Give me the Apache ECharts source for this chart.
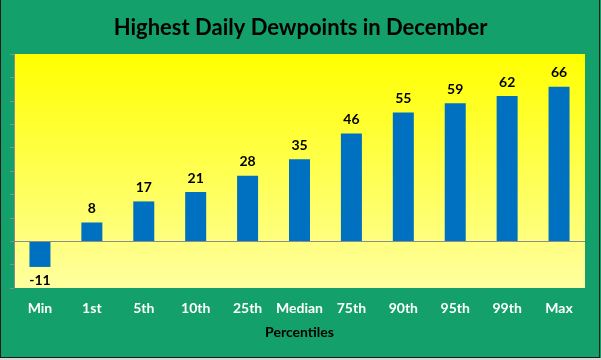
<!DOCTYPE html>
<html>
<head>
<meta charset="utf-8">
<script src="https://cdn.jsdelivr.net/npm/echarts@6/dist/echarts.min.js"></script>
<style>
html,body{margin:0;padding:0;background:#fff;}
#c{width:601px;height:360px;}
</style>
</head>
<body>
<div id="c"></div>
<script>
const categories = ["Min","1st","5th","10th","25th","Median","75th","90th","95th","99th","Max"];
const values = [-11, 8, 17, 21, 28, 35, 46, 55, 59, 62, 66];
const titleText = "Highest Daily Dewpoints in December";
const xAxisName = "Percentiles";
const yMin = -20, yMax = 80, yInterval = 10;

const FONT = "Lato";
const chart = echarts.init(document.getElementById('c'), null, {renderer:'canvas'});
chart.setOption({
  animation:false,
  backgroundColor:'#13A06A',
  title:{
    text:titleText, left:'center', top:12,
    textStyle:{fontFamily:FONT, fontSize:22, fontWeight:'bold', color:'#000'}
  },
  grid:{
    left:14, right:16, top:54, bottom:72, show:true, borderWidth:0,
    backgroundColor:new echarts.graphic.LinearGradient(0,0,0,1,[
      {offset:0,color:'#FFFF00'},{offset:1,color:'#FFFFA0'}
    ])
  },
  xAxis:{
    type:'category', data:categories,
    axisLine:{show:false}, axisTick:{show:false},
    axisLabel:{color:'#fff', fontFamily:FONT, fontSize:14, fontWeight:'bold', margin:13, interval:0},
    name:xAxisName, nameLocation:'middle', nameGap:37,
    nameTextStyle:{color:'#000', fontFamily:FONT, fontSize:14, fontWeight:'bold'}
  },
  yAxis:{
    type:'value', min:yMin, max:yMax, interval:yInterval,
    axisLine:{show:true, lineStyle:{color:'#8C8C8C', width:1}},
    axisTick:{show:true, inside:false, length:4, lineStyle:{color:'#8C8C8C'}},
    axisLabel:{show:false}, splitLine:{show:false}
  },
  series:[{
    type:'bar', barWidth:21,
    data:values.map(v=>({value:v, label:{position: v<0?'bottom':'top'}})),
    itemStyle:{color:'#0070C0'},
    label:{show:true, distance:7, color:'#000', fontFamily:FONT, fontSize:14, fontWeight:'bold'},
    markLine:{
      silent:true, symbol:'none', label:{show:false},
      lineStyle:{color:'#8C8C8C', type:'solid', width:1},
      data:[{yAxis:0}]
    }
  }],
  graphic:[
    {type:'rect', shape:{x:0,y:358,width:601,height:2}, style:{fill:'#D9D9D9'}},
    {type:'line', shape:{x1:0.5,y1:0,x2:0.5,y2:358}, style:{stroke:'#1A1A1A',lineWidth:1}},
    {type:'line', shape:{x1:599.5,y1:0,x2:599.5,y2:358}, style:{stroke:'#1A1A1A',lineWidth:1}},
    {type:'line', shape:{x1:0,y1:357.5,x2:600,y2:357.5}, style:{stroke:'#1A1A1A',lineWidth:1}}
  ]
});
</script>
</body>
</html>
